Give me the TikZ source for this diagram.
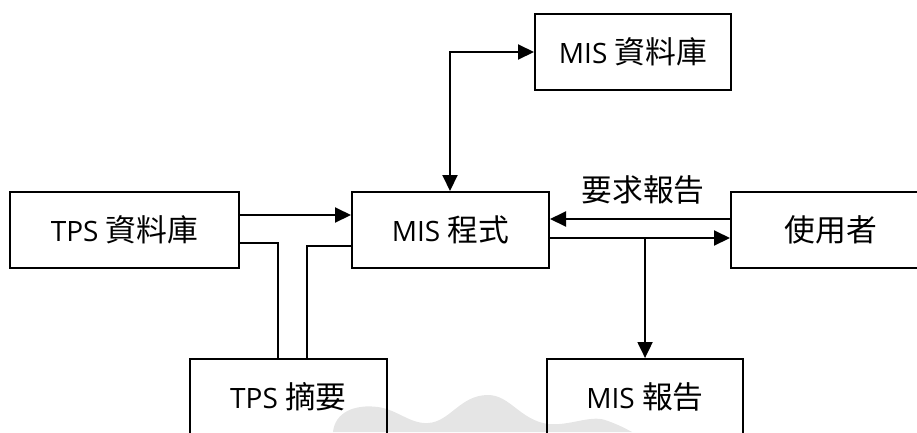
\documentclass[tikz,border=0pt]{standalone}
\usepackage{fontspec}
\setmainfont{Open Sans}
\newfontfamily\cjk[Scale=1.1]{Noto Sans CJK TC}
\usetikzlibrary{arrows.meta,calc}
\begin{document}
\begin{tikzpicture}[x=1pt,y=-1pt,
  box/.style={draw,line width=2pt,inner sep=0pt,minimum height=76pt,font=\fontsize{28}{32}\selectfont},
  conn/.style={line width=2pt},
  arr/.style={conn,-{Triangle[length=16pt,width=15pt]}},
  darr/.style={conn,{Triangle[length=16pt,width=15pt]}-{Triangle[length=16pt,width=15pt]}},
  lbl/.style={font=\fontsize{28}{32}\selectfont}]
\useasboundingbox (0,0) rectangle (917,432);
\clip (0,0) rectangle (917,432);
% watermark cloud
\fill[black!10] (333,432) .. controls (335,412) and (355,404) .. (378,407)
  .. controls (398,410) and (410,424) .. (428,423)
  .. controls (450,422) and (460,395) .. (488,395)
  .. controls (510,395) and (520,420) .. (548,424)
  .. controls (570,426) and (590,415) .. (605,420)
  .. controls (620,425) and (628,430) .. (632,432) -- cycle;
% boxes
\node[box,minimum width=196pt] (misdb) at (633,52) {MIS {\cjk 資料庫}};
\node[box,minimum width=229pt] (tpsdb) at (124.5,230) {TPS {\cjk 資料庫}};
\node[box,minimum width=197pt] (misprog) at (450.5,230) {MIS {\cjk 程式}};
\node[box,minimum width=200pt] (user) at (831,230) {{\cjk 使用者}};
\node[box,minimum width=197pt] (tpssum) at (288.5,397) {TPS {\cjk 摘要}};
\node[box,minimum width=196pt] (misrep) at (645,397) {MIS {\cjk 報告}};
% connectors
\draw[arr] ($(tpsdb.north east)+(0,24)$) -- ($(misprog.north west)+(0,24)$);
\draw[conn] ($(tpsdb.north east)+(0,52)$) -| ($(tpssum.north west)+(89,0)$);
\draw[conn] ($(misprog.north west)+(0,55)$) -| ($(tpssum.north west)+(118,0)$);
\draw[darr] ($(misprog.north west)+(99,0)$) |- (misdb.west);
\draw[arr] ($(user.north west)+(0,28)$) -- ($(misprog.north east)+(0,28)$);
\draw[arr] ($(misprog.north east)+(0,47)$) -- coordinate[pos=0.528] (br) ($(user.north west)+(0,47)$);
\draw[arr] (br) -- (br |- misrep.north);
\node[lbl] (req) at (643,190) {{\cjk 要求報告}};
\end{tikzpicture}
\end{document}
